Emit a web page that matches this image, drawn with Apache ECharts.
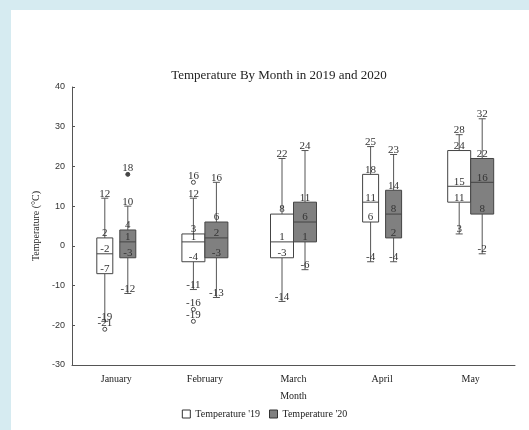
<!DOCTYPE html>
<html>
<head>
<meta charset="utf-8">
<script src="https://cdn.jsdelivr.net/npm/echarts@6/dist/echarts.min.js"></script>
<style>
	html, body { margin:0; padding:0; background:#d6ebf1; }
	#panel { position:absolute; left:11px; top:10px; width:518px; height:420px; background:#fff; }
	#chart { position:absolute; left:0; top:0; width:529px; height:430px; }
</style>
</head>
<body>
<div id="panel"></div>
<div id="chart"></div>
<script>
// months on the x axis
var months = ['January', 'February', 'March', 'April', 'May'];
// [min, Q1, median, Q3, max] per month
var temp19 = [[-19, -7, -2, 2, 12], [-11, -4, 1, 3, 12], [-14, -3, 1, 8, 22], [-4, 6, 11, 18, 25], [3, 11, 15, 24, 28]];
var temp20 = [[-12, -3, 1, 4, 10], [-13, -3, 2, 6, 16], [-6, 1, 6, 11, 24], [-4, 2, 8, 14, 23], [-2, 8, 16, 22, 32]];
// outliers: [month index, value]
var out19 = [[0, -21], [1, 16], [1, -16], [1, -19]];
var out20 = [[0, 18]];

// box width per month (px)
var boxW = [16, 23, 23, 16, 23];
var serif = '"Liberation Serif", "Times New Roman", serif';

function labelEl(x, y, v){
	return {
		type:'text',
		style:{
			text: String(v), x:x, y:y + 1,
			align:'center', verticalAlign:'bottom',
			textAlign:'center', textVerticalAlign:'bottom',
			font:'11px ' + serif, fill:'#333'
		}
	};
}

function boxRender(offset, fill){
	return function(params, api){
		var cat = api.value(0);
		var cx = api.coord([cat, 0])[0] + offset;
		var w = boxW[cat];
		var ys = [];
		for (var i = 1; i <= 5; i++) ys.push(api.coord([cat, api.value(i)])[1]);
		var ln = {stroke:'#555', lineWidth:1};
		var children = [
			{type:'line', shape:{x1:cx, y1:ys[4], x2:cx, y2:ys[3]}, style:ln},
			{type:'line', shape:{x1:cx, y1:ys[1], x2:cx, y2:ys[0]}, style:ln},
			{type:'line', shape:{x1:cx-3.5, y1:ys[4], x2:cx+3.5, y2:ys[4]}, style:ln},
			{type:'line', shape:{x1:cx-3.5, y1:ys[0], x2:cx+3.5, y2:ys[0]}, style:ln},
			{type:'rect', shape:{x:cx-w/2, y:ys[3], width:w, height:ys[1]-ys[3]}, style:{fill:fill, stroke:'#444', lineWidth:1}},
			{type:'line', shape:{x1:cx-w/2, y1:ys[2], x2:cx+w/2, y2:ys[2]}, style:{stroke:'#444', lineWidth:1}}
		];
		for (var j = 1; j <= 5; j++) children.push(labelEl(cx, ys[j-1], api.value(j)));
		return {type:'group', children:children};
	};
}

function outRender(offset, fill){
	return function(params, api){
		var cat = api.value(0);
		var p = api.coord([cat, api.value(1)]);
		var cx = p[0] + offset;
		return {type:'group', children:[
			{type:'circle', shape:{cx:cx, cy:p[1], r:2}, style:{fill:fill, stroke:'#444', lineWidth:1}},
			labelEl(cx, p[1] - 2, api.value(1))
		]};
	};
}

function rows(arr){
	var r = [];
	for (var i = 0; i < arr.length; i++) r.push([i].concat(arr[i]));
	return r;
}

var chart = echarts.init(document.getElementById('chart'));
var option = {
	animation:false,
	title:{
		text:'Temperature By Month in 2019 and 2020',
		left:274, top:64, textAlign:'center',
		textStyle:{fontFamily:serif, fontSize:13, fontWeight:'normal', color:'#222'}
	},
	legend:{
		bottom:6, left:'center',
		itemWidth:8, itemHeight:8, itemGap:9,
		textStyle:{fontFamily:serif, fontSize:10, color:'#222'},
		data:[
			{name:"Temperature '19", icon:'rect', itemStyle:{color:'#fff', borderColor:'#333', borderWidth:1}},
			{name:"Temperature '20", icon:'rect', itemStyle:{color:'#808080', borderColor:'#333', borderWidth:1}}
		]
	},
	grid:{left:72, right:14, top:87, bottom:65},
	xAxis:{
		type:'category', data:months,
		name:'Month', nameLocation:'middle', nameGap:26,
		nameTextStyle:{fontFamily:serif, fontSize:10, color:'#222'},
		axisLine:{onZero:false, lineStyle:{color:'#555'}},
		axisTick:{inside:true, length:3, lineStyle:{color:'#555'}},
		axisLabel:{fontFamily:serif, fontSize:10, color:'#222', margin:9}
	},
	yAxis:{
		type:'value', min:-30, max:40, interval:10,
		name:'Temperature (°C)', nameLocation:'middle', nameGap:30,
		nameTextStyle:{fontFamily:serif, fontSize:10, color:'#222'},
		axisLine:{show:true, lineStyle:{color:'#555'}},
		axisTick:{show:true, inside:true, length:3, lineStyle:{color:'#555'}},
		axisLabel:{fontFamily:'"Liberation Sans", Arial, sans-serif', fontSize:9, color:'#333', margin:7},
		splitLine:{show:false}
	},
	series:[
		{name:"Temperature '19", type:'custom', renderItem:boxRender(-11.5, '#fff'), data:rows(temp19), encode:{x:0, y:[1,2,3,4,5]}},
		{name:"Temperature '20", type:'custom', renderItem:boxRender(11.5, '#808080'), data:rows(temp20), encode:{x:0, y:[1,2,3,4,5]}},
		{name:"Temperature '19", type:'custom', renderItem:outRender(-11.5, '#fff'), data:out19, encode:{x:0, y:1}},
		{name:"Temperature '20", type:'custom', renderItem:outRender(11.5, '#444'), data:out20, encode:{x:0, y:1}}
	]
};
chart.setOption(option);
</script>
</body>
</html>
